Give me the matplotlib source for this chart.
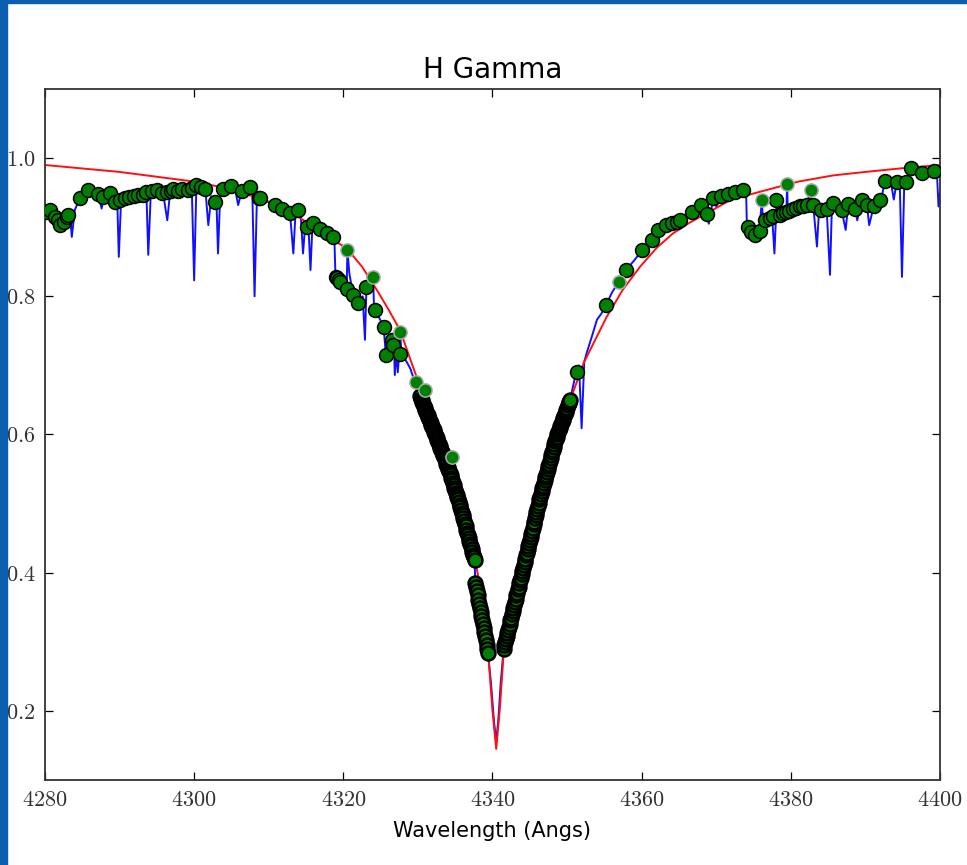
import matplotlib
matplotlib.use("Agg")
import matplotlib.pyplot as plt
from matplotlib.ticker import FuncFormatter
from matplotlib.patches import Rectangle

plt.rcParams["mathtext.fontset"] = "cm"

# observed spectrum (blue)
SPEC_WAVE = [
    4280.0, 4280.7, 4281.3, 4282.0, 4282.6, 4283.1, 4283.4, 4283.6, 4284.0, 4284.7,
    4285.8, 4286.6, 4287.15, 4287.6, 4287.9, 4288.7, 4289.4, 4289.7, 4289.9, 4290.2,
    4291.0, 4292.0, 4293.0, 4293.6, 4293.85, 4294.2, 4294.97, 4295.8, 4296.4, 4296.8,
    4297.2, 4298.1, 4299.2, 4299.7, 4300.0, 4300.3, 4301.0, 4301.5, 4301.9, 4302.3,
    4302.8, 4303.0, 4303.2, 4303.5, 4303.9, 4305.0, 4305.5, 4305.9, 4306.4, 4307.5,
    4307.8, 4308.1, 4308.4, 4308.83, 4309.8, 4310.84, 4311.74, 4312.85, 4313.3, 4313.6,
    4313.97, 4314.3, 4314.6, 4314.9, 4315.1, 4315.35, 4315.6, 4315.85, 4316.0, 4316.9,
    4317.8, 4318.66, 4318.8, 4318.95, 4319.3, 4319.6, 4320.0, 4320.45, 4320.55, 4320.8,
    4321.3, 4322.0, 4322.6, 4322.9, 4323.1, 4323.5, 4324.0, 4324.1, 4324.25, 4325.0,
    4325.4, 4325.7, 4326.0, 4326.5, 4326.8, 4326.9, 4327.1, 4327.3, 4327.5, 4327.6,
    4327.8, 4328.5, 4329.0, 4329.6, 4330.0, 4330.3, 4332.1, 4334.3, 4336.5, 4337.6,
    4337.7, 4339.4, 4339.8, 4340.2, 4340.5, 4340.8, 4341.1, 4341.5, 4343.7, 4346.4,
    4348.6, 4350.4, 4351.0, 4351.3, 4351.6, 4351.95, 4352.3, 4352.6, 4353.3, 4354.0,
    4354.6, 4355.2, 4356.0, 4356.9, 4357.9, 4359.0, 4360.1, 4361.35, 4362.2, 4363.3,
    4364.0, 4364.7, 4365.1, 4365.8, 4366.7, 4367.3, 4367.9, 4368.3, 4368.7, 4369.0,
    4369.6, 4370.0, 4370.7, 4371.6, 4372.5, 4373.55, 4374.0, 4374.1, 4374.3, 4374.7,
    4375.2, 4375.8, 4376.1, 4376.3, 4376.5, 4377.2, 4377.5, 4377.8, 4378.0, 4378.1,
    4378.3, 4378.55, 4379.4, 4379.5, 4379.6, 4380.3, 4381.2, 4382.1, 4382.65, 4382.8,
    4383.0, 4383.5, 4383.8, 4384.1, 4384.8, 4385.25, 4385.5, 4385.7, 4386.3, 4386.8,
    4387.35, 4387.7, 4388.6, 4388.9, 4389.5, 4390.2, 4390.5, 4391.1, 4391.9, 4392.3,
    4392.6, 4393.4, 4393.8, 4394.2, 4394.6, 4394.9, 4395.2, 4395.45, 4396.1, 4396.8,
    4397.55, 4398.4, 4399.2, 4399.6, 4399.8, 4400.0,
]
SPEC_FLUX = [
    0.925, 0.922, 0.912, 0.903, 0.908, 0.915, 0.912, 0.886, 0.925, 0.942,
    0.954, 0.950, 0.947, 0.927, 0.944, 0.949, 0.937, 0.935, 0.857, 0.938,
    0.943, 0.945, 0.947, 0.950, 0.860, 0.952, 0.954, 0.952, 0.910, 0.953,
    0.955, 0.954, 0.953, 0.950, 0.823, 0.960, 0.957, 0.955, 0.903, 0.945,
    0.937, 0.935, 0.862, 0.948, 0.955, 0.959, 0.955, 0.932, 0.953, 0.958,
    0.950, 0.800, 0.935, 0.942, 0.937, 0.932, 0.927, 0.920, 0.862, 0.922,
    0.925, 0.915, 0.862, 0.905, 0.901, 0.895, 0.838, 0.900, 0.906, 0.898,
    0.891, 0.886, 0.884, 0.828, 0.825, 0.821, 0.815, 0.811, 0.867, 0.834,
    0.802, 0.790, 0.800, 0.737, 0.812, 0.816, 0.828, 0.790, 0.780, 0.765,
    0.756, 0.716, 0.735, 0.737, 0.728, 0.686, 0.720, 0.690, 0.717, 0.749,
    0.717, 0.705, 0.695, 0.675, 0.665, 0.655, 0.606, 0.544, 0.462, 0.418,
    0.385, 0.284, 0.240, 0.185, 0.155, 0.190, 0.240, 0.290, 0.389, 0.510,
    0.597, 0.650, 0.680, 0.691, 0.700, 0.609, 0.705, 0.717, 0.741, 0.766,
    0.775, 0.787, 0.805, 0.821, 0.838, 0.852, 0.867, 0.882, 0.896, 0.903,
    0.906, 0.908, 0.910, 0.915, 0.922, 0.926, 0.932, 0.925, 0.918, 0.905,
    0.942, 0.930, 0.945, 0.948, 0.951, 0.954, 0.952, 0.906, 0.901, 0.893,
    0.889, 0.895, 0.939, 0.905, 0.911, 0.914, 0.914, 0.862, 0.915, 0.939,
    0.918, 0.918, 0.922, 0.962, 0.922, 0.927, 0.930, 0.932, 0.954, 0.932,
    0.932, 0.872, 0.928, 0.925, 0.927, 0.831, 0.930, 0.935, 0.925, 0.925,
    0.896, 0.934, 0.927, 0.910, 0.939, 0.932, 0.903, 0.930, 0.939, 0.950,
    0.967, 0.966, 0.940, 0.966, 0.965, 0.828, 0.960, 0.966, 0.985, 0.982,
    0.979, 0.981, 0.982, 0.975, 0.930, 0.950,
]

# fitted profile (red)
MODEL_WAVE = [
    4280.0, 4290.0, 4300.0, 4305.0, 4310.0, 4314.0, 4317.0, 4320.5, 4322.5, 4324.5,
    4326.0, 4327.6, 4329.8, 4331.0, 4333.0, 4335.0, 4337.0, 4338.0, 4339.0, 4339.5,
    4340.0, 4340.5, 4341.0, 4341.5, 4342.0, 4343.0, 4345.0, 4347.0, 4349.0, 4350.5,
    4352.2, 4355.3, 4357.5, 4359.8, 4362.0, 4364.2, 4366.5, 4368.7, 4372.0, 4376.8,
    4381.0, 4385.7, 4390.0, 4394.6, 4400.0,
]
MODEL_FLUX = [
    0.990, 0.980, 0.966, 0.955, 0.937, 0.915, 0.893, 0.869, 0.843, 0.809,
    0.782, 0.751, 0.684, 0.652, 0.595, 0.527, 0.449, 0.400, 0.325, 0.272,
    0.200, 0.145, 0.205, 0.285, 0.318, 0.370, 0.455, 0.535, 0.605, 0.652,
    0.703, 0.770, 0.810, 0.843, 0.870, 0.891, 0.907, 0.920, 0.940, 0.954,
    0.966, 0.975, 0.980, 0.985, 0.990,
]

# selected points, continuum blue side
LEFT_WAVE = [
    4280.2, 4280.7, 4281.3, 4281.8, 4282.0, 4282.5, 4282.9, 4283.1, 4284.7, 4285.8,
    4287.15, 4287.8, 4288.7, 4289.4, 4290.06, 4290.7, 4291.3, 4291.9, 4292.5, 4293.1,
    4293.6, 4294.3, 4294.97, 4295.7, 4296.3, 4296.9, 4297.2, 4297.8, 4298.4, 4299.2,
    4299.7, 4300.3, 4300.9, 4301.5, 4302.8, 4303.9, 4305.0, 4306.4, 4307.5, 4308.7,
    4308.83, 4310.84, 4311.74, 4312.85, 4313.97, 4315.1, 4316.0, 4316.9, 4317.8, 4318.66,
    4319.0, 4319.2, 4319.4, 4319.6, 4320.45, 4321.3, 4322.0, 4323.0, 4324.25, 4325.4,
    4325.7, 4326.5, 4326.7, 4327.6,
]
LEFT_FLUX = [
    0.922, 0.925, 0.915, 0.910, 0.903, 0.908, 0.915, 0.918, 0.942, 0.954,
    0.948, 0.943, 0.949, 0.937, 0.940, 0.942, 0.943, 0.945, 0.946, 0.947,
    0.951, 0.953, 0.954, 0.950, 0.951, 0.953, 0.955, 0.952, 0.955, 0.954,
    0.957, 0.961, 0.958, 0.955, 0.937, 0.955, 0.959, 0.953, 0.958, 0.942,
    0.942, 0.932, 0.927, 0.920, 0.925, 0.901, 0.906, 0.898, 0.891, 0.886,
    0.828, 0.826, 0.823, 0.821, 0.811, 0.802, 0.790, 0.814, 0.780, 0.756,
    0.715, 0.737, 0.729, 0.717,
]

# selected points in the line core
CORE_WAVE = [
    4330.3, 4330.4, 4330.5, 4330.6, 4330.7, 4330.8, 4330.9, 4331.0, 4331.1, 4331.2,
    4331.3, 4331.4, 4331.5, 4331.6, 4331.7, 4331.8, 4331.9, 4332.0, 4332.1, 4332.2,
    4332.3, 4332.4, 4332.5, 4332.6, 4332.7, 4332.8, 4332.9, 4333.0, 4333.1, 4333.2,
    4333.3, 4333.4, 4333.5, 4333.6, 4333.7, 4333.8, 4333.9, 4334.0, 4334.1, 4334.2,
    4334.3, 4334.4, 4334.5, 4334.6, 4334.7, 4334.8, 4334.9, 4335.0, 4335.1, 4335.2,
    4335.3, 4335.4, 4335.5, 4335.6, 4335.7, 4335.8, 4335.9, 4336.0, 4336.1, 4336.2,
    4336.3, 4336.4, 4336.5, 4336.6, 4336.7, 4336.8, 4336.9, 4337.0, 4337.1, 4337.2,
    4337.3, 4337.4, 4337.5, 4337.6,
    4337.7, 4337.8, 4337.9, 4338.0, 4338.1, 4338.2, 4338.3, 4338.4, 4338.5, 4338.6,
    4338.7, 4338.8, 4338.9, 4339.0, 4339.1, 4339.2, 4339.3, 4339.4,
    4341.5, 4341.6, 4341.7, 4341.8, 4341.9, 4342.0, 4342.1, 4342.2, 4342.3, 4342.4,
    4342.5, 4342.6, 4342.7, 4342.8, 4342.9, 4343.0, 4343.1, 4343.2, 4343.3, 4343.4,
    4343.5, 4343.6, 4343.7, 4343.8, 4343.9, 4344.0, 4344.1, 4344.2, 4344.3, 4344.4,
    4344.5, 4344.6, 4344.7, 4344.8, 4344.9, 4345.0, 4345.1, 4345.2, 4345.3, 4345.4,
    4345.5, 4345.6, 4345.7, 4345.8, 4345.9, 4346.0, 4346.1, 4346.2, 4346.3, 4346.4,
    4346.5, 4346.6, 4346.7, 4346.8, 4346.9, 4347.0, 4347.1, 4347.2, 4347.3, 4347.4,
    4347.5, 4347.6, 4347.7, 4347.8, 4347.9, 4348.0, 4348.1, 4348.2, 4348.3, 4348.4,
    4348.5, 4348.6, 4348.7, 4348.8, 4348.9, 4349.0, 4349.1, 4349.2, 4349.3, 4349.4,
    4349.5, 4349.6, 4349.7, 4349.8, 4349.9, 4350.0, 4350.1, 4350.2, 4350.3, 4350.4,
]
CORE_FLUX = [
    0.655, 0.652, 0.650, 0.647, 0.644, 0.641, 0.639, 0.636, 0.633, 0.630,
    0.628, 0.625, 0.622, 0.619, 0.617, 0.614, 0.611, 0.609, 0.606, 0.603,
    0.600, 0.598, 0.595, 0.592, 0.589, 0.586, 0.584, 0.581, 0.578, 0.575,
    0.572, 0.570, 0.567, 0.564, 0.561, 0.558, 0.555, 0.553, 0.550, 0.547,
    0.544, 0.541, 0.537, 0.534, 0.530, 0.527, 0.523, 0.520, 0.516, 0.513,
    0.509, 0.506, 0.502, 0.498, 0.495, 0.491, 0.487, 0.483, 0.479, 0.475,
    0.471, 0.467, 0.462, 0.458, 0.454, 0.450, 0.446, 0.442, 0.438, 0.434,
    0.430, 0.426, 0.422, 0.418,
    0.385, 0.379, 0.373, 0.367, 0.361, 0.355, 0.349, 0.343, 0.337, 0.332,
    0.326, 0.320, 0.314, 0.308, 0.302, 0.296, 0.290, 0.284,
    0.290, 0.295, 0.299, 0.304, 0.308, 0.313, 0.317, 0.322, 0.326, 0.331,
    0.335, 0.340, 0.344, 0.349, 0.353, 0.358, 0.362, 0.367, 0.371, 0.376,
    0.380, 0.385, 0.389, 0.393, 0.398, 0.402, 0.407, 0.411, 0.416, 0.420,
    0.425, 0.429, 0.434, 0.438, 0.443, 0.447, 0.452, 0.456, 0.461, 0.465,
    0.470, 0.474, 0.479, 0.483, 0.488, 0.492, 0.497, 0.501, 0.506, 0.510,
    0.514, 0.518, 0.522, 0.526, 0.530, 0.534, 0.538, 0.542, 0.546, 0.550,
    0.554, 0.558, 0.562, 0.566, 0.570, 0.574, 0.578, 0.582, 0.586, 0.590,
    0.594, 0.597, 0.600, 0.603, 0.606, 0.609, 0.612, 0.615, 0.618, 0.621,
    0.624, 0.627, 0.630, 0.633, 0.636, 0.639, 0.642, 0.645, 0.647, 0.650,
]

# selected points, continuum red side
RIGHT_WAVE = [
    4351.3, 4355.2, 4357.9, 4360.1, 4361.35, 4362.2, 4363.3, 4364.0, 4364.7, 4365.1,
    4366.7, 4367.9, 4368.7, 4369.6, 4370.7, 4371.6, 4372.5, 4373.55, 4374.3, 4374.7,
    4375.2, 4375.8, 4376.5, 4377.2, 4377.6, 4378.0, 4378.55, 4378.9, 4379.4, 4379.8,
    4380.3, 4380.7, 4381.2, 4381.6, 4382.1, 4383.0, 4384.1, 4384.8, 4385.7, 4386.8,
    4387.7, 4388.6, 4389.5, 4390.2, 4391.1, 4391.9, 4392.6, 4394.2, 4395.45, 4396.1,
    4397.55, 4399.2,
]
RIGHT_FLUX = [
    0.691, 0.787, 0.838, 0.867, 0.882, 0.896, 0.903, 0.906, 0.908, 0.910,
    0.922, 0.932, 0.919, 0.942, 0.945, 0.948, 0.951, 0.954, 0.901, 0.893,
    0.889, 0.895, 0.911, 0.914, 0.916, 0.939, 0.918, 0.920, 0.922, 0.924,
    0.927, 0.928, 0.930, 0.931, 0.932, 0.932, 0.925, 0.927, 0.935, 0.925,
    0.934, 0.927, 0.939, 0.932, 0.930, 0.939, 0.967, 0.966, 0.966, 0.985,
    0.979, 0.982,
]

# points drawn with a pale edge
PALE_WAVE = [4320.5, 4324.0, 4327.6, 4329.7, 4330.95, 4334.53, 4356.9, 4376.1, 4379.5, 4382.65]
PALE_FLUX = [0.867, 0.828, 0.749, 0.676, 0.664, 0.568, 0.821, 0.939, 0.962, 0.954]

fig = plt.figure(figsize=(9.67, 8.65), dpi=100)
ax = fig.add_axes([0.0465, 0.0983, 0.9256, 0.7988])

ax.plot(SPEC_WAVE, SPEC_FLUX, color="#1010ff", lw=1.4, zorder=1)
ax.plot(MODEL_WAVE, MODEL_FLUX, color="#ff1010", lw=1.4, zorder=2)

mk = dict(ls="none", marker="o", ms=10, mfc="#008000", mec="black", mew=1.1, zorder=3)
ax.plot(LEFT_WAVE, LEFT_FLUX, **mk)
ax.plot(CORE_WAVE, CORE_FLUX, **dict(mk, mew=1.8))
ax.plot(RIGHT_WAVE, RIGHT_FLUX, **mk)
ax.plot(PALE_WAVE, PALE_FLUX, ls="none", marker="o", ms=9.5, mfc="#008000",
        mec="#a8a8a8", mew=1.1, zorder=4)

ax.set_xlim(4280, 4400)
ax.set_ylim(0.1, 1.1)
ax.set_xticks([4280, 4300, 4320, 4340, 4360, 4380, 4400])
ax.set_yticks([0.2, 0.4, 0.6, 0.8, 1.0])
ax.xaxis.set_major_formatter(FuncFormatter(lambda v, p: r"$%d$" % v))
ax.yaxis.set_major_formatter(FuncFormatter(lambda v, p: r"$%.1f$" % v))
ax.tick_params(direction="in", top=True, right=True, length=6, width=0.9,
               labelsize=16, pad=7, colors="black")
ax.tick_params(axis="x", labelcolor="#333333")
ax.tick_params(axis="y", labelcolor="#333333")
for s in ax.spines.values():
    s.set_linewidth(1.3)
    s.set_color("#333333")

ax.set_title("H Gamma", fontsize=20, pad=8)
ax.set_xlabel("Wavelength (Angs)", fontsize=15, labelpad=8)

# window border
fig.patches.append(Rectangle((0, 0), 7 / 967, 1, transform=fig.transFigure,
                             color="#0a5fae", zorder=10))
fig.patches.append(Rectangle((0, 1 - 3 / 865), 1, 3 / 865, transform=fig.transFigure,
                             color="#0a5fae", zorder=10))

fig.savefig("out.png", dpi=100)
